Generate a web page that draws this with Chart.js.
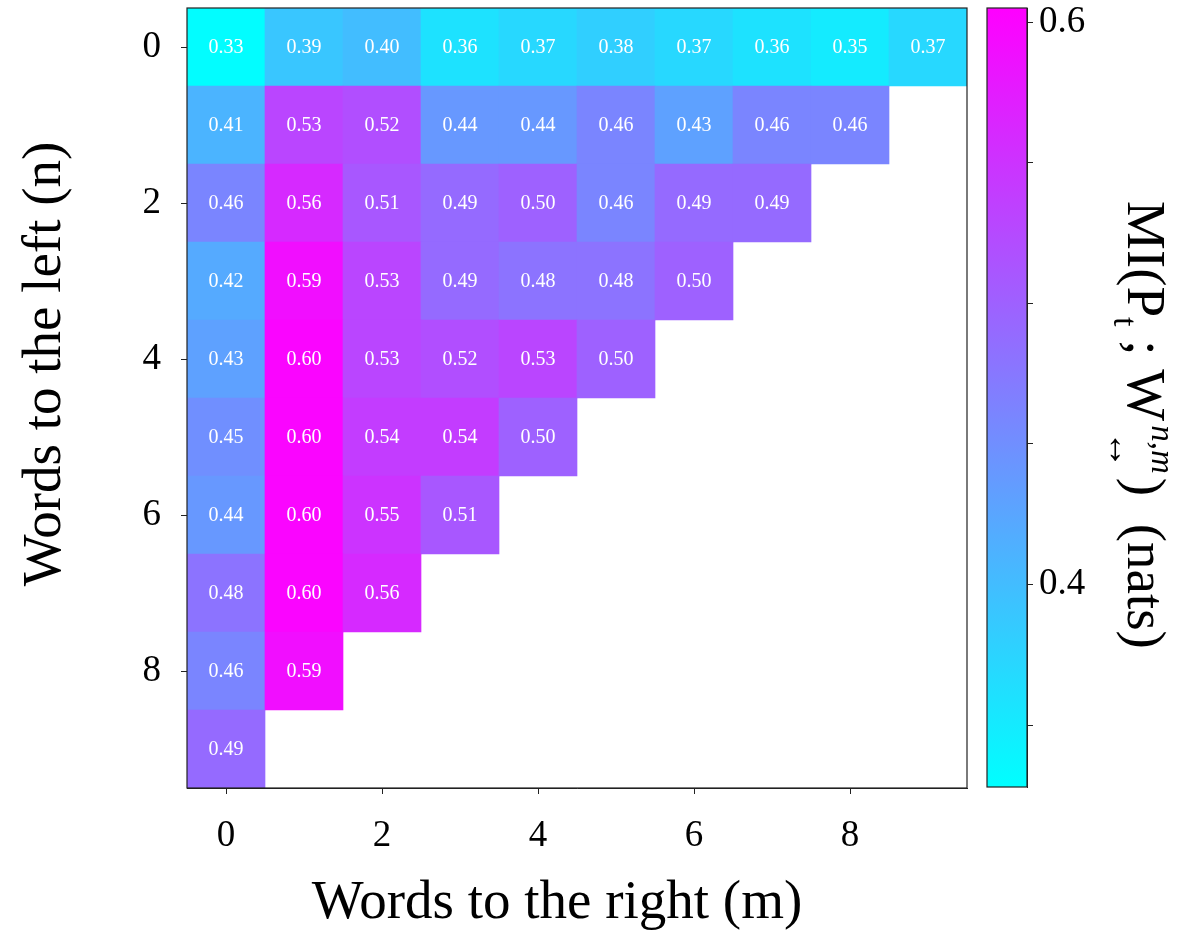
<!DOCTYPE html>
<html>
<head>
<meta charset="utf-8">
<script src="https://cdn.jsdelivr.net/npm/chart.js@4.4.1/dist/chart.umd.min.js"></script>
<style>
  html, body { margin: 0; padding: 0; background: #fff; }
  #wrap { position: relative; width: 1196px; height: 930px; }
  #main { position: absolute; left: 0; top: 0; }
  #cbar { position: absolute; left: 980px; top: 0; }
</style>
</head>
<body>
<div id="wrap">
  <canvas id="main" width="980" height="930"></canvas>
  <canvas id="cbar" width="216" height="930"></canvas>
</div>
<script>
// ---- data ----
const rowLabels = ['0','1','2','3','4','5','6','7','8','9'];   // n (words to the left)
const colIndex  = [0,1,2,3,4,5,6,7,8,9];                       // m (words to the right)
const row0 = [0.33,0.39,0.40,0.36,0.37,0.38,0.37,0.36,0.35,0.37];
const row1 = [0.41,0.53,0.52,0.44,0.44,0.46,0.43,0.46,0.46];
const row2 = [0.46,0.56,0.51,0.49,0.50,0.46,0.49,0.49];
const row3 = [0.42,0.59,0.53,0.49,0.48,0.48,0.50];
const row4 = [0.43,0.60,0.53,0.52,0.53,0.50];
const row5 = [0.45,0.60,0.54,0.54,0.50];
const row6 = [0.44,0.60,0.55,0.51];
const row7 = [0.48,0.60,0.56];
const row8 = [0.46,0.59];
const row9 = [0.49];
const rows = [row0,row1,row2,row3,row4,row5,row6,row7,row8,row9];
const xTickValues = [0,2,4,6,8];
const yTickIndexes = [0,2,4,6,8];
const xTitle = 'Words to the right (m)';
const yTitle = 'Words to the left (n)';
const cbMin = 0.328, cbMax = 0.605;
const cbTickValues = [0.35,0.40,0.45,0.50,0.55,0.60];
const cbTickLabels = ['', '0.4', '', '', '', '0.6'];

const SERIF = '"Liberation Serif", "DejaVu Serif", serif';
Chart.defaults.font.family = SERIF;
Chart.defaults.color = '#000';

function cool(v) {
  let t = (v - cbMin) / (cbMax - cbMin);
  t = Math.max(0, Math.min(1, t));
  const r = Math.round(255 * t), g = Math.round(255 * (1 - t));
  return `rgb(${r},${g},255)`;
}

const cells = [];
rows.forEach((vals, n) => {
  vals.forEach((v, m) => {
    cells.push({ x: [colIndex[m] - 0.5, colIndex[m] + 0.5], y: rowLabels[n], v: v });
  });
});

function noPad(s) { s.paddingTop = 0; s.paddingBottom = 0; s.paddingLeft = 0; s.paddingRight = 0; }

const frame = {
  id: 'frame',
  afterDatasetsDraw(chart) {
    const { ctx, chartArea: a } = chart;
    ctx.save();
    ctx.strokeStyle = '#222';
    ctx.lineWidth = 1.2;
    ctx.strokeRect(a.left, a.top, a.right - a.left, a.bottom - a.top);
    ctx.restore();
  }
};

const cellText = {
  id: 'cellText',
  afterDatasetsDraw(chart) {
    const { ctx } = chart;
    const meta = chart.getDatasetMeta(0);
    ctx.save();
    ctx.fillStyle = '#fff';
    ctx.font = '20px ' + SERIF;
    ctx.textAlign = 'center';
    ctx.textBaseline = 'middle';
    meta.data.forEach((el, i) => {
      const p = el.getCenterPoint();
      ctx.fillText(cells[i].v.toFixed(2), p.x, p.y + 1);
    });
    ctx.restore();
  }
};

const axisTitles = {
  id: 'axisTitles',
  afterDraw(chart) {
    const { ctx } = chart;
    ctx.save();
    ctx.fillStyle = '#000';
    ctx.font = '55px ' + SERIF;
    ctx.textAlign = 'center';
    ctx.textBaseline = 'alphabetic';
    ctx.fillText(xTitle, 557, 918);
    ctx.translate(60, 364);
    ctx.rotate(-Math.PI / 2);
    ctx.fillText(yTitle, 0, 0);
    ctx.restore();
  }
};

new Chart(document.getElementById('main'), {
  type: 'bar',
  data: {
    labels: rowLabels,
    datasets: [{
      data: cells,
      backgroundColor: ctx => ctx.raw ? cool(ctx.raw.v) : '#fff',
      borderWidth: 0,
      barPercentage: 1,
      categoryPercentage: 1
    }]
  },
  plugins: [cellText, frame, axisTitles],
  options: {
    indexAxis: 'y',
    responsive: false,
    animation: false,
    devicePixelRatio: 1,
    layout: { padding: { left: 0, top: 8, right: 13, bottom: 0 } },
    plugins: { legend: { display: false }, tooltip: { enabled: false } },
    scales: {
      y: {
        type: 'category',
        offset: true,
        afterFit: s => { s.width = 187; noPad(s); },
        afterBuildTicks: s => { s.ticks = s.ticks.filter(t => yTickIndexes.includes(t.value)); },
        grid: { offset: false, drawOnChartArea: false, tickLength: 6, tickColor: '#222', tickWidth: 1 },
        border: { display: true, color: '#222', width: 1 },
        ticks: { font: { size: 37 }, padding: 20, color: '#000' },
        title: { display: false }
      },
      x: {
        type: 'linear',
        min: -0.5, max: 9.5,
        afterFit: s => { s.height = 142; noPad(s); },
        afterBuildTicks: s => { s.ticks = xTickValues.map(v => ({ value: v })); },
        grid: { drawOnChartArea: false, tickLength: 6, tickColor: '#222', tickWidth: 1 },
        border: { display: true, color: '#222', width: 1 },
        ticks: { font: { size: 37 }, padding: 20, color: '#000', callback: v => String(v) },
        title: { display: false }
      }
    }
  }
});

// ---- colorbar ----
const cbLabel = {
  id: 'cbLabel',
  afterDraw(chart) {
    const { ctx } = chart;
    const segs = [
      { t: 'MI(P', size: 55, dy: 0 },
      { t: 't', size: 34, dy: 14 },
      { t: ' ; W', size: 55, dy: 0 },
      { gap: 4 },
      { stack: [{ t: 'n,m', size: 33, dy: -24, italic: true }, { t: '\u2194', size: 38, dy: 19 }] },
      { gap: 4 },
      { t: ')', size: 55, dy: 0 },
      { t: '  (nats)', size: 55, dy: 0 }
    ];
    const fontOf = s => (s.italic ? 'italic ' : '') + s.size + 'px ' + SERIF;
    ctx.save();
    const widths = segs.map(s => {
      if (s.gap) return s.gap;
      if (s.stack) return Math.max(...s.stack.map(q => { ctx.font = fontOf(q); return ctx.measureText(q.t).width; }));
      ctx.font = fontOf(s); return ctx.measureText(s.t).width;
    });
    ctx.translate(148, 0);
    ctx.rotate(Math.PI / 2);
    ctx.fillStyle = '#000';
    ctx.textBaseline = 'alphabetic';
    ctx.textAlign = 'left';
    let x = 201;
    segs.forEach((s, i) => {
      if (s.stack) {
        s.stack.forEach(q => {
          ctx.font = fontOf(q);
          const w = ctx.measureText(q.t).width;
          ctx.fillText(q.t, x + (widths[i] - w) / 2, q.dy);
        });
      } else if (!s.gap) { ctx.font = fontOf(s); ctx.fillText(s.t, x, s.dy); }
      x += widths[i];
    });
    ctx.restore();
  }
};

new Chart(document.getElementById('cbar'), {
  type: 'bar',
  data: {
    labels: [''],
    datasets: [{
      data: [[cbMin, cbMax]],
      backgroundColor: ctx => {
        const a = ctx.chart.chartArea;
        if (!a) return '#0ff';
        const g = ctx.chart.ctx.createLinearGradient(0, a.bottom, 0, a.top);
        g.addColorStop(0, cool(cbMin));
        g.addColorStop(1, cool(cbMax));
        return g;
      },
      borderWidth: 0,
      barPercentage: 1,
      categoryPercentage: 1
    }]
  },
  plugins: [frame, cbLabel],
  options: {
    responsive: false,
    animation: false,
    devicePixelRatio: 1,
    layout: { padding: { left: 7, top: 8, right: 0, bottom: 143 } },
    plugins: { legend: { display: false }, tooltip: { enabled: false } },
    scales: {
      x: { display: false },
      y: {
        type: 'linear',
        position: 'right',
        min: cbMin, max: cbMax,
        afterFit: s => { s.width = 169; noPad(s); },
        afterBuildTicks: s => { s.ticks = cbTickValues.map(v => ({ value: v })); },
        grid: { drawOnChartArea: false, tickLength: 6, tickColor: '#222' },
        border: { display: true, color: '#222' },
        ticks: {
          font: { size: 37 }, padding: 6, color: '#000',
          callback: (v, i) => cbTickLabels[i]
        }
      }
    }
  }
});
</script>
</body>
</html>
